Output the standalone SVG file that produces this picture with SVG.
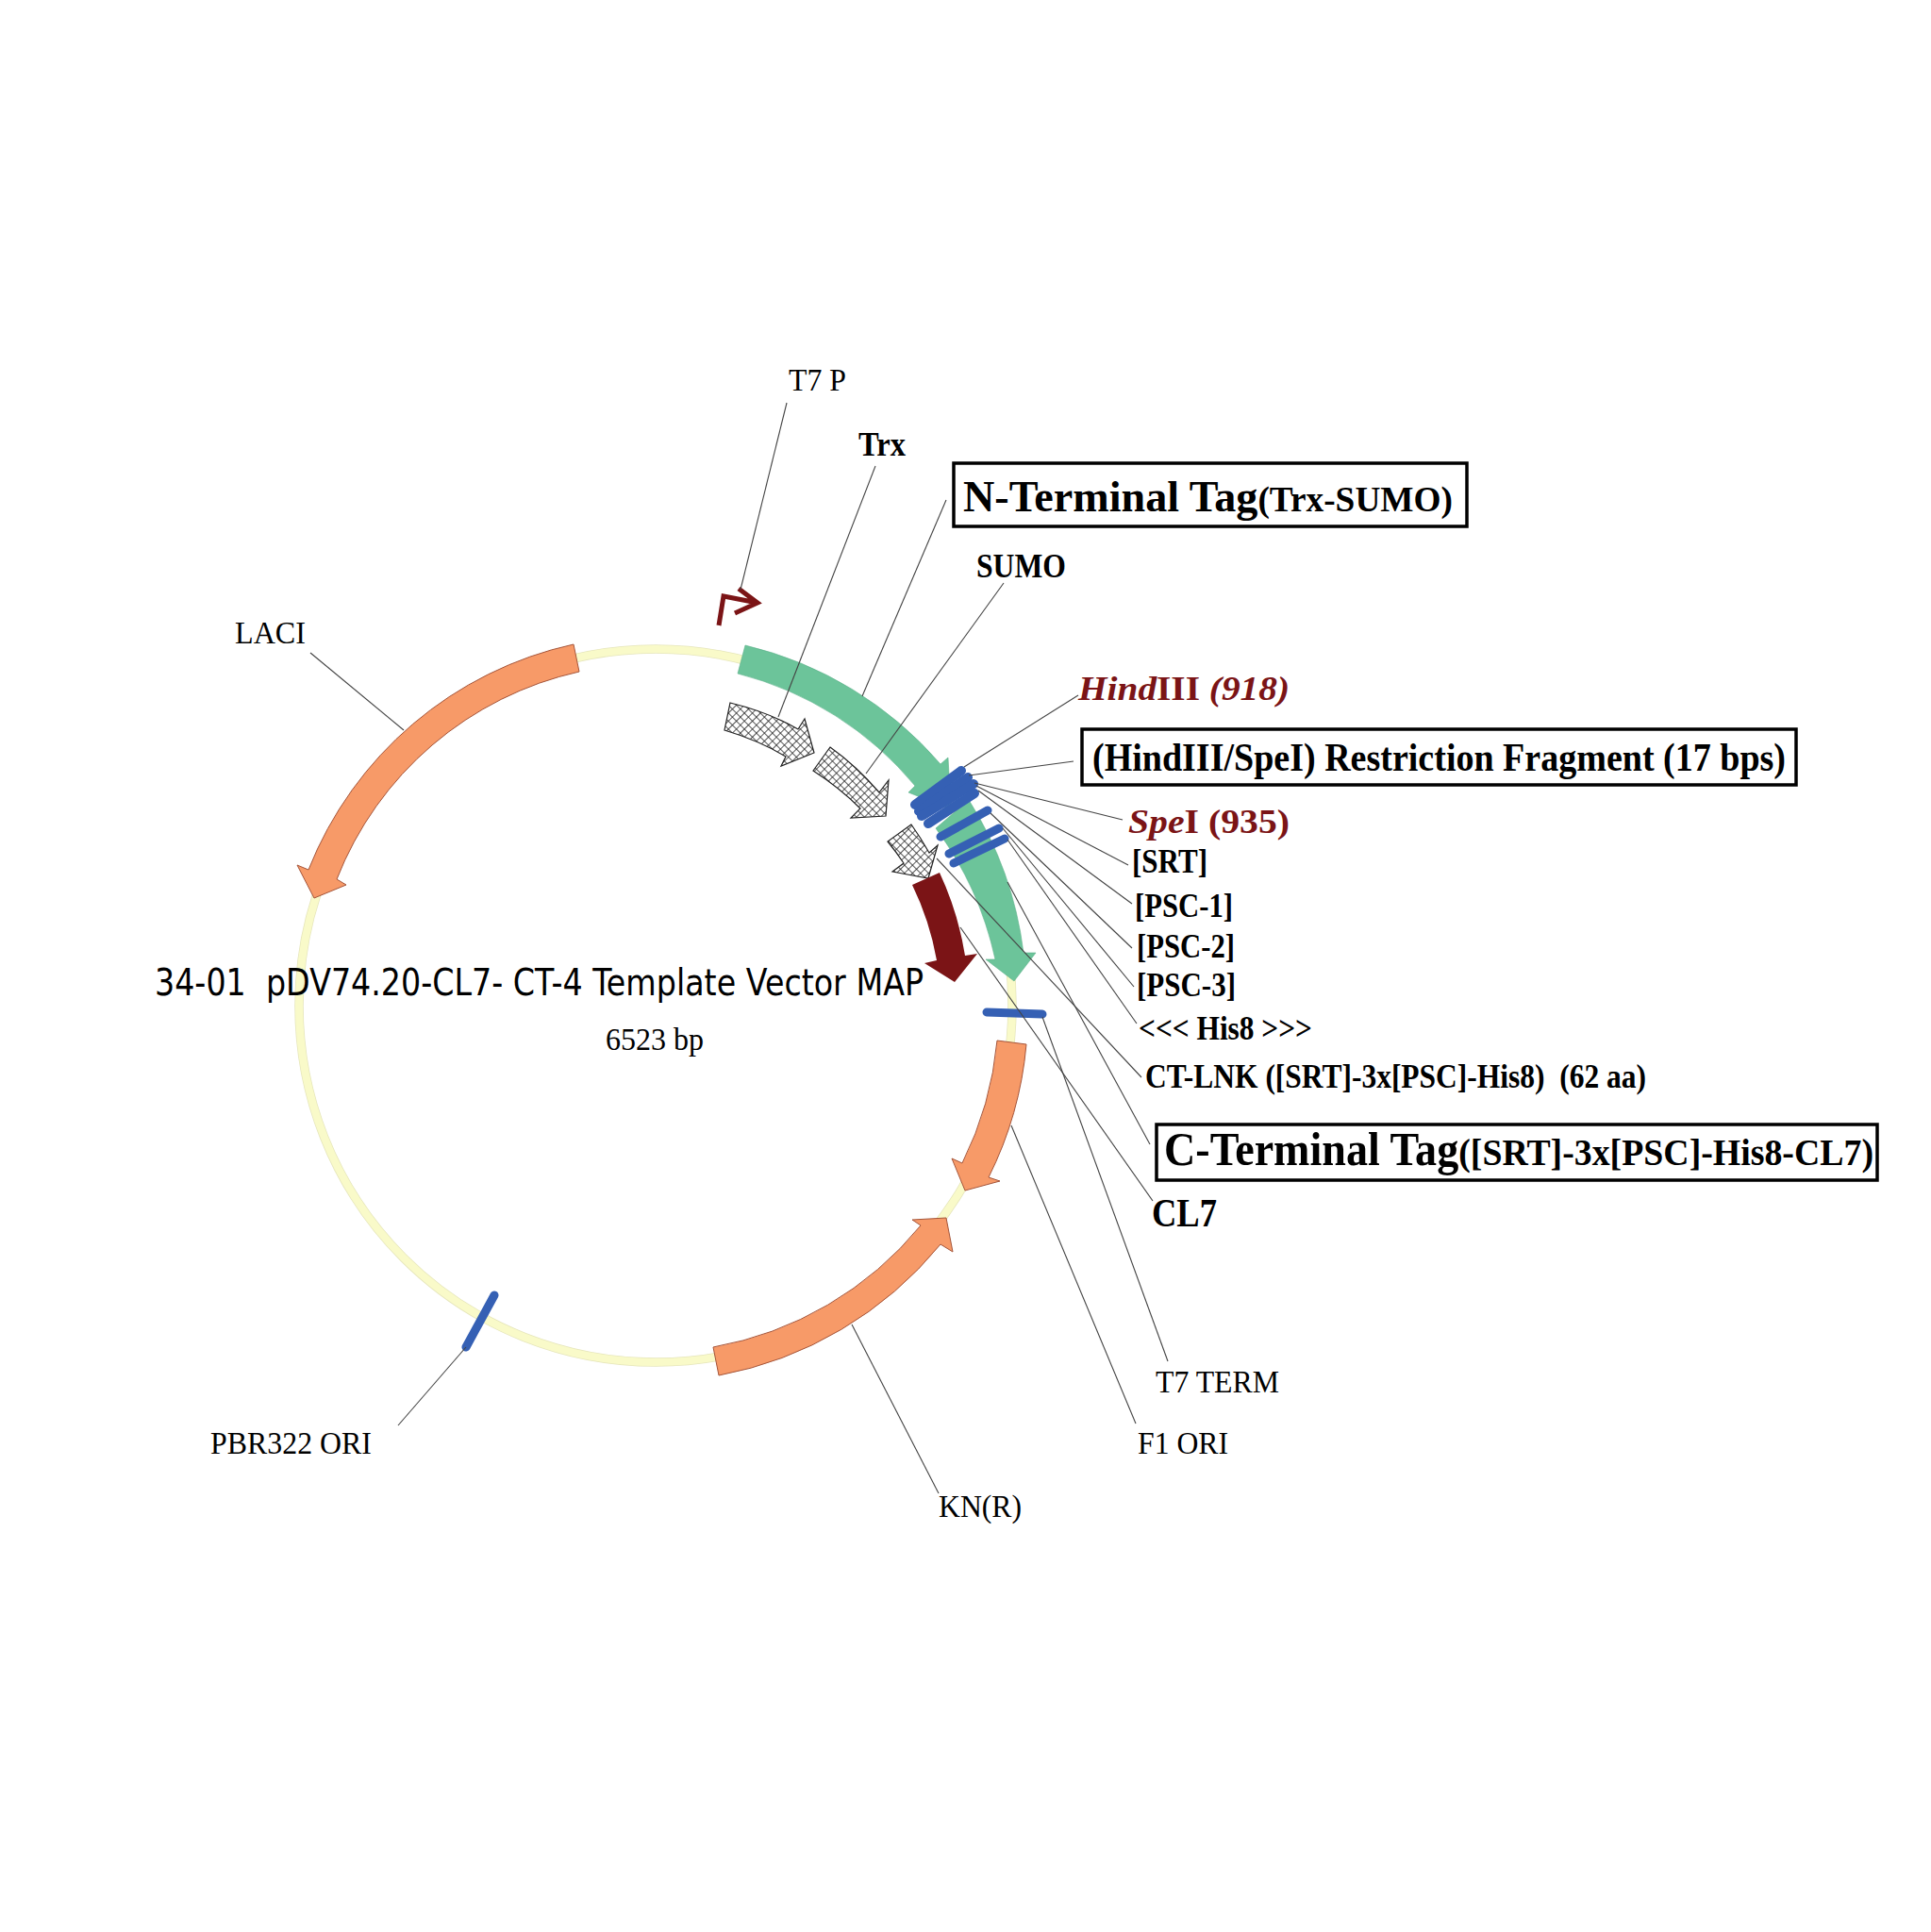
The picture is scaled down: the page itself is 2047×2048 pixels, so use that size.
<svg xmlns="http://www.w3.org/2000/svg" width="2047" height="2048" viewBox="0 0 2047 2048">
<style>
text{font-family:"Liberation Serif","Times New Roman",serif;fill:#000}
.r{font-size:34px}
.b{font-weight:bold;font-size:35px}
.m{font-weight:bold;font-size:35px;fill:#7b1416}
.i{font-style:italic}
.bx{fill:#fff;stroke:#000;stroke-width:3.5}
.o{fill:#f79a68;stroke:#a5553a;stroke-width:1}
.g{fill:#6cc49a;stroke:#5cb08a;stroke-width:.6}
.h{fill:url(#hatch);stroke:#222;stroke-width:1.2}
.bl{stroke:#3560b4;stroke-width:9;stroke-linecap:round;fill:none}
.bt{stroke-width:10}
#connectors line{stroke:#444;stroke-width:1.1}
</style>
<defs>
<pattern id="hatch" width="6" height="6" patternUnits="userSpaceOnUse" patternTransform="rotate(45)">
<rect width="6" height="6" fill="#fff"/>
<path d="M0 0H6M0 0V6" stroke="#222" stroke-width="1.5" fill="none"/>
</pattern>
</defs>
<rect width="2047" height="2048" fill="#fff"/>
<g id="backbone"><circle cx="695" cy="1066" r="378" fill="none" stroke="#e6e6bc" stroke-width="9.5"/><circle cx="695" cy="1066" r="378" fill="none" stroke="#f9fac9" stroke-width="8"/></g>
<g id="laci"><path class="o" d="M608,683 L614,712 A360,360 0 0 0 357,932 L367,938 L333,952 L315,917 L327,922 A393,393 0 0 1 608,683Z"/><text class="r" x="249" y="682" textLength="75" lengthAdjust="spacingAndGlyphs">LACI</text></g>
<g id="n-tag"><path class="g" d="M790,684 L782,714 A360,360 0 0 1 970,833 L963,840 L1008,858 L1005,803 L997,810 A393,393 0 0 0 790,684Z"/>
<rect class="bx" x="1011" y="491" width="544" height="67"/>
<text x="1021" y="542" font-weight="bold" font-size="47" textLength="519" lengthAdjust="spacingAndGlyphs">N-Terminal Tag<tspan font-size="38">(Trx-SUMO)</tspan></text></g>
<g id="c-tag"><path class="g" d="M1027,848 L992,878 A363,363 0 0 1 1055,1017 L1045,1017 L1075,1040 L1098,1010 L1085,1010 A393,393 0 0 0 1027,848Z"/>
<rect class="bx" x="1226" y="1192" width="764" height="59"/>
<text x="1234" y="1235" font-weight="bold" font-size="50" textLength="752" lengthAdjust="spacingAndGlyphs">C-Terminal Tag<tspan font-size="41">([SRT]-3x[PSC]-His8-CL7)</tspan></text></g>
<g id="t7p"><path d="M762,663 L767,632 L803,639 M783,624 L803,639 L779,650" fill="none" stroke="#7b1416" stroke-width="5"/><text class="r" x="836" y="414" textLength="61" lengthAdjust="spacingAndGlyphs">T7 P</text></g>
<g id="trx"><path class="h" d="M774,745 L768,774 Q805,785 833,802 L828,812 L863,798 L853,762 L846,773 Q815,755 774,745Z"/><text class="b" x="910" y="483" textLength="50" lengthAdjust="spacingAndGlyphs">Trx</text></g>
<g id="sumo"><path class="h" d="M880,792 L862,817 Q890,835 912,857 L902,867 L939,865 L942,827 L932,840 Q908,812 880,792Z"/><text class="b" x="1035" y="612" textLength="95" lengthAdjust="spacingAndGlyphs">SUMO</text></g>
<g id="ct-lnk"><path class="h" d="M966,874 L941,892 Q950,903 958,915 L946,924 L984,931 L994,896 L985,904 Q976,888 966,874Z"/><text class="b" x="1214" y="1153" textLength="531" xml:space="preserve" lengthAdjust="spacingAndGlyphs">CT-LNK ([SRT]-3x[PSC]-His8)  (62 aa)</text></g>
<g id="cl7"><path d="M967,938 L996,925 A332,332 0 0 1 1023,1013 L1036,1011 L1012,1041 L980,1021 L993,1018 A302,302 0 0 0 967,938Z" fill="#7b1416"/><text x="1221" y="1300" font-weight="bold" font-size="42" textLength="69" lengthAdjust="spacingAndGlyphs">CL7</text></g>
<g id="hindiii"><line class="bl bt" x1="970" y1="853" x2="1019" y2="817"/><text class="m" x="1143" y="742" textLength="224" lengthAdjust="spacingAndGlyphs"><tspan class="i">Hind</tspan>III <tspan class="i">(918)</tspan></text></g>
<g id="fragment"><line class="bl bt" x1="974" y1="860" x2="1026" y2="824"/>
<rect class="bx" x="1147" y="773" width="757" height="59"/>
<text x="1158" y="817" font-weight="bold" font-size="42" textLength="735" lengthAdjust="spacingAndGlyphs">(HindIII/SpeI) Restriction Fragment (17 bps)</text></g>
<g id="spei"><line class="bl bt" x1="977" y1="865" x2="1032" y2="831"/><text class="m" x="1196" y="883" textLength="171" lengthAdjust="spacingAndGlyphs"><tspan class="i">Spe</tspan>I (935)</text></g>
<g id="srt"><line class="bl bt" x1="984" y1="873" x2="1033" y2="841"/><text class="b" x="1200" y="925" textLength="80" lengthAdjust="spacingAndGlyphs">[SRT]</text></g>
<g id="psc-1"><line class="bl" x1="997" y1="887" x2="1047" y2="859"/><text class="b" x="1203" y="972" textLength="104" lengthAdjust="spacingAndGlyphs">[PSC-1]</text></g>
<g id="psc-2"><line class="bl" x1="1006" y1="905" x2="1059" y2="878"/><text class="b" x="1205" y="1015" textLength="104" lengthAdjust="spacingAndGlyphs">[PSC-2]</text></g>
<g id="psc-3"><line class="bl" x1="1011" y1="915" x2="1065" y2="889"/><text class="b" x="1205" y="1056" textLength="105" lengthAdjust="spacingAndGlyphs">[PSC-3]</text></g>
<g id="his8"><text class="b" x="1207" y="1102" textLength="184" lengthAdjust="spacingAndGlyphs">&lt;&lt;&lt; His8 &gt;&gt;&gt;</text></g>
<g id="t7-term"><line class="bl" x1="1046" y1="1073" x2="1105" y2="1075"/><text class="r" x="1225" y="1476" textLength="131" lengthAdjust="spacingAndGlyphs">T7 TERM</text></g>
<g id="f1-ori"><path class="o" d="M1057,1103 L1088,1107 A393,393 0 0 1 1048,1248 L1060,1252 L1023,1262 L1009,1228 L1020,1233 A363,363 0 0 0 1057,1103Z"/><text class="r" x="1206" y="1541" textLength="96" lengthAdjust="spacingAndGlyphs">F1 ORI</text></g>
<g id="kn"><path class="o" d="M756,1428 L762,1458 A397,397 0 0 0 997,1319 L1010,1327 L1003,1291 L967,1293 L976,1299 A367,367 0 0 1 756,1428Z"/><text class="r" x="995" y="1608" textLength="88" lengthAdjust="spacingAndGlyphs">KN(R)</text></g>
<g id="pbr322"><line class="bl" x1="494" y1="1428" x2="524" y2="1373" stroke-width="7"/><text class="r" x="223" y="1541" textLength="171" lengthAdjust="spacingAndGlyphs">PBR322 ORI</text></g>
<g id="title"><text x="164" y="1055" font-size="39" xml:space="preserve" style="font-family:'DejaVu Sans','Open Sans',sans-serif" textLength="815" lengthAdjust="spacingAndGlyphs">34-01  pDV74.20-CL7- CT-4 Template Vector MAP</text><text class="r" x="642" y="1113" textLength="104" lengthAdjust="spacingAndGlyphs">6523 bp</text></g>
<g id="connectors">
<line x1="834" y1="427" x2="785" y2="625"/>
<line x1="928" y1="494" x2="825" y2="760"/>
<line x1="1003" y1="530" x2="914" y2="738"/>
<line x1="1064" y1="618" x2="918" y2="820"/>
<line x1="1143" y1="737" x2="1022" y2="813"/>
<line x1="1138" y1="807" x2="1027" y2="822"/>
<line x1="1190" y1="869" x2="1033" y2="830"/>
<line x1="1196" y1="917" x2="1035" y2="833"/>
<line x1="1200" y1="958" x2="1037" y2="838"/>
<line x1="1200" y1="1005" x2="1050" y2="862"/>
<line x1="1202" y1="1046" x2="1063" y2="878"/>
<line x1="1205" y1="1085" x2="1068" y2="890"/>
<line x1="1210" y1="1142" x2="993" y2="910"/>
<line x1="1219" y1="1213" x2="1068" y2="935"/>
<line x1="1222" y1="1273" x2="1018" y2="983"/>
<line x1="1238" y1="1443" x2="1105" y2="1078"/>
<line x1="1204" y1="1509" x2="1072" y2="1193"/>
<line x1="995" y1="1583" x2="903" y2="1404"/>
<line x1="422" y1="1511" x2="494" y2="1428"/>
<line x1="329" y1="692" x2="428" y2="774"/>
</g>
</svg>
